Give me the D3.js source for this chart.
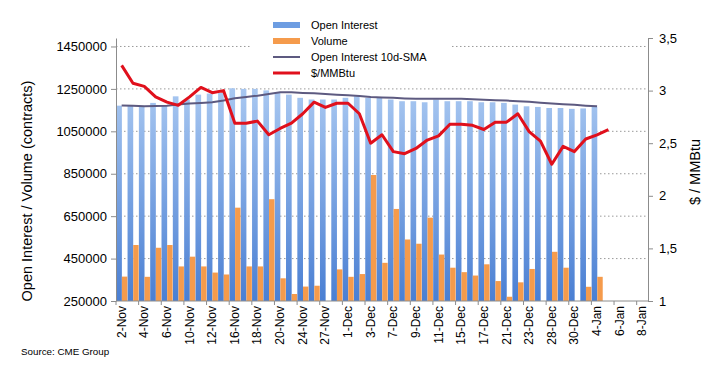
<!DOCTYPE html>
<html>
<head>
<meta charset="utf-8">
<script src="https://cdn.jsdelivr.net/npm/d3@7/dist/d3.min.js"></script>
<style>
  html, body { margin: 0; padding: 0; background: #fff; }
  svg { display: block; font-family: "Liberation Sans", Arial, sans-serif; }
</style>
</head>
<body>
<svg id="chart" width="718" height="368"></svg>
<script>
// ---------------- data ----------------
const categories = ["2-Nov","3-Nov","4-Nov","5-Nov","6-Nov","9-Nov","10-Nov","11-Nov","12-Nov","13-Nov",
  "16-Nov","17-Nov","18-Nov","19-Nov","20-Nov","23-Nov","24-Nov","25-Nov","27-Nov","30-Nov",
  "1-Dec","2-Dec","3-Dec","4-Dec","7-Dec","8-Dec","9-Dec","10-Dec","11-Dec",
  "14-Dec","15-Dec","16-Dec","17-Dec","18-Dec","21-Dec","22-Dec","23-Dec","24-Dec",
  "28-Dec","29-Dec","30-Dec","31-Dec","4-Jan","5-Jan","6-Jan","7-Jan","8-Jan"];

const openInterest = [1171000,1171000,1168000,1184000,1171000,1215000,1200000,1223000,1228000,1231000,
  1253000,1250000,1250000,1243000,1234000,1223000,1208000,1200000,1200000,1200000,
  1208000,1215000,1208000,1208000,1200000,1192000,1192000,1187000,1200000,
  1192000,1192000,1192000,1187000,1187000,1184000,1176000,1168000,1165000,
  1160000,1160000,1156000,1158000,1165000];

const volume = [365000,514000,364000,501000,514000,413000,459000,413000,384000,375000,
  690000,413000,413000,730000,357000,283000,318000,322000,null,399000,
  364000,377000,844000,430000,684000,540000,520000,643000,469000,
  407000,386000,370000,423000,344000,270000,338000,401000,null,
  482000,407000,null,317000,364000];

const oiSMA = [1172000,1171000,1168000,1169000,1171000,1176000,1181000,1184000,1187000,1195000,
  1206000,1212000,1218000,1226000,1234000,1234000,1231000,1229000,1226000,1223000,
  1220000,1216000,1212000,1210000,1208000,1205000,1203000,1203000,1203000,
  1203000,1203000,1201000,1199000,1197000,1195000,1192000,1189000,1185000,
  1181000,1178000,1175000,1171000,1168000];

const price = [3.24,3.07,3.04,2.94,2.89,2.86,2.94,3.03,2.98,3.00,
  2.69,2.69,2.71,2.58,2.64,2.69,2.78,2.89,2.84,2.88,
  2.88,2.78,2.50,2.58,2.42,2.40,2.45,2.53,2.57,
  2.68,2.68,2.67,2.63,2.70,2.70,2.78,2.61,2.52,
  2.30,2.47,2.42,2.54,2.58,2.63];

const leftTicks = [250000,450000,650000,850000,1050000,1250000,1450000];
const rightTicks = [1,1.5,2,2.5,3,3.5];
const legendLabels = ["Open Interest","Volume","Open Interest 10d-SMA","$/MMBtu"];

// ---------------- layout ----------------
const svg = d3.select("#chart");
const X0 = 116, X1 = 648, YT = 38, YB = 301;

const x = d3.scaleBand().domain(categories).range([X0, X1]).padding(0);
const yL = d3.scaleLinear().domain([250000, 1490000]).range([YB, YT]);
const yR = d3.scaleLinear().domain([1, 3.5]).range([YB, YT]);
const bw = x.bandwidth();

const defs = svg.append("defs");
const grad = defs.append("linearGradient").attr("id", "blueGrad")
  .attr("gradientUnits", "userSpaceOnUse").attr("x1", 0).attr("x2", 0)
  .attr("y1", yL(1260000)).attr("y2", YB);
grad.append("stop").attr("offset", "0%").attr("stop-color", "#a9c8f1");
grad.append("stop").attr("offset", "100%").attr("stop-color", "#4a7fd3");

// gridlines
svg.append("g").selectAll("line").data(leftTicks.filter(t => t > 250000)).join("line")
  .attr("x1", X0).attr("x2", X1)
  .attr("y1", d => yL(d)).attr("y2", d => yL(d))
  .attr("stroke", "#9a9a9a").attr("stroke-width", 1).attr("stroke-dasharray", "1.5,2.5");

// bars: open interest
svg.append("g").selectAll("rect").data(openInterest).join("rect")
  .attr("x", (d, i) => x(categories[i]) + bw * 0.02)
  .attr("width", bw * 0.5)
  .attr("y", d => yL(d))
  .attr("height", d => YB - yL(d))
  .attr("fill", "url(#blueGrad)");

// bars: volume
svg.append("g").selectAll("rect").data(volume.map((v, i) => ({v, i})).filter(d => d.v != null)).join("rect")
  .attr("x", d => x(categories[d.i]) + bw * 0.52)
  .attr("width", bw * 0.48)
  .attr("y", d => yL(d.v))
  .attr("height", d => YB - yL(d.v))
  .attr("fill", "#f59b4c");

// SMA line
svg.append("path")
  .datum(oiSMA)
  .attr("fill", "none").attr("stroke", "#5d5a80").attr("stroke-width", 2)
  .attr("d", d3.line().x((d, i) => x(categories[i]) + bw / 2).y(d => yL(d)));

// price line
svg.append("path")
  .datum(price)
  .attr("fill", "none").attr("stroke", "#e0101c").attr("stroke-width", 3)
  .attr("stroke-linejoin", "round")
  .attr("d", d3.line().x((d, i) => x(categories[i]) + bw / 2).y(d => yR(d)));

// left axis
const gL = svg.append("g").attr("transform", `translate(${X0},0)`)
  .call(d3.axisLeft(yL).tickValues(leftTicks).tickFormat(d3.format("d")).tickSize(5).tickSizeOuter(0));
gL.select(".domain").attr("stroke", "#8c8c8c");
gL.selectAll(".tick line").attr("stroke", "#8c8c8c");
gL.selectAll("text").attr("font-size", 13).attr("fill", "#000").attr("x", -9)
  .style("font-family", "'Liberation Sans', Arial, sans-serif");

// right axis
const gR = svg.append("g").attr("transform", `translate(${X1},0)`)
  .call(d3.axisRight(yR).tickValues(rightTicks).tickFormat(d => String(d).replace(".", ",")).tickSize(5).tickSizeOuter(0));
gR.select(".domain").attr("stroke", "#8c8c8c");
gR.selectAll(".tick line").attr("stroke", "#8c8c8c");
gR.selectAll("text").attr("font-size", 13).attr("fill", "#000").attr("x", 11)
  .style("font-family", "'Liberation Sans', Arial, sans-serif");

// bottom axis
svg.append("line").attr("x1", X0).attr("x2", X1).attr("y1", YB).attr("y2", YB).attr("stroke", "#8c8c8c");
const tickIdx = d3.range(0, categories.length + 1, 2);
svg.append("g").selectAll("line").data(tickIdx).join("line")
  .attr("x1", i => X0 + i * bw).attr("x2", i => X0 + i * bw)
  .attr("y1", YB).attr("y2", YB + 4).attr("stroke", "#8c8c8c");
svg.append("g").selectAll("text").data(categories.filter((c, i) => i % 2 === 0)).join("text")
  .attr("transform", d => `translate(${x(d) + bw / 2 + 4},${YB + 5}) rotate(-90)`)
  .attr("text-anchor", "end")
  .attr("font-size", 12).attr("fill", "#000")
  .text(d => d);

// axis titles
svg.append("text")
  .attr("transform", `translate(32,191) rotate(-90)`)
  .attr("text-anchor", "middle").attr("font-size", 14.5).attr("fill", "#000")
  .text("Open Interest / Volume (contracts)");
svg.append("text")
  .attr("transform", `translate(700,172) rotate(-90)`)
  .attr("text-anchor", "middle").attr("font-size", 14.5).attr("fill", "#000")
  .text("$ / MMBtu");

// source
svg.append("text").attr("x", 21).attr("y", 355).attr("font-size", 9.8).attr("fill", "#000")
  .text("Source: CME Group");

// legend
const lg = svg.append("g");
lg.append("rect").attr("x", 252).attr("y", 12).attr("width", 198).attr("height", 72).attr("fill", "#fff");
const rows = [25, 41, 57, 73];
lg.append("rect").attr("x", 273).attr("y", rows[0] - 3).attr("width", 27).attr("height", 6).attr("fill", "#6d9de2");
lg.append("rect").attr("x", 273).attr("y", rows[1] - 3).attr("width", 27).attr("height", 6).attr("fill", "#f59b4c");
lg.append("line").attr("x1", 273).attr("x2", 300).attr("y1", rows[2]).attr("y2", rows[2]).attr("stroke", "#5d5a80").attr("stroke-width", 2);
lg.append("line").attr("x1", 273).attr("x2", 300).attr("y1", rows[3]).attr("y2", rows[3]).attr("stroke", "#e0101c").attr("stroke-width", 3);
lg.selectAll("text.lt").data(legendLabels).join("text").attr("class", "lt")
  .attr("x", 311).attr("y", (d, i) => rows[i] + 4)
  .attr("font-size", 11).attr("fill", "#000")
  .text(d => d);
</script>
</body>
</html>
